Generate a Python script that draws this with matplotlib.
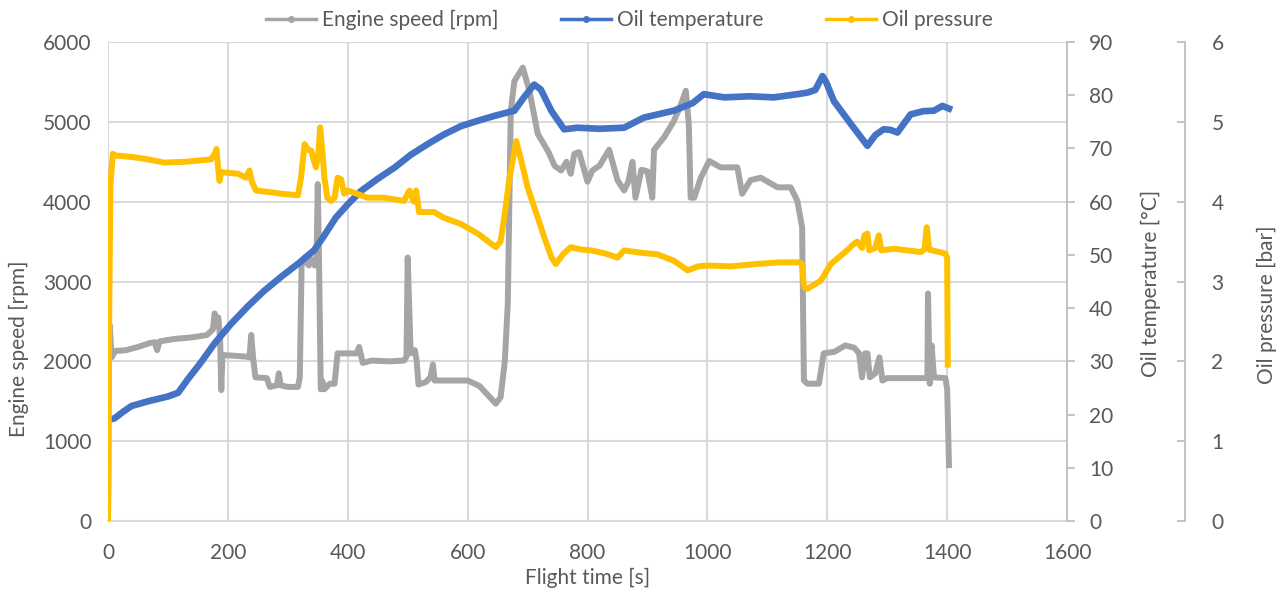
import matplotlib.pyplot as plt
from matplotlib.lines import Line2D

plt.rcParams['font.family'] = ['Lato', 'DejaVu Sans']

# Engine speed [rpm] vs flight time [s]
rpm_t = [0, 3, 6, 12, 30, 50, 70, 78, 82, 86, 110, 140, 165, 175, 178, 181, 184, 187, 189, 191,
         210, 230, 236, 239, 242, 246, 265, 270, 282, 285, 288, 300, 317, 320, 323, 328, 335, 340,
         345, 348, 350, 352, 355, 358, 361, 370, 378, 383, 415, 419, 425, 440, 470, 494, 498, 500,
         502, 505, 512, 515, 518, 530, 538, 542, 545, 600, 620, 647, 655, 662, 667, 672, 678, 692,
         703, 717, 735, 745, 756, 765, 772, 778, 786, 800, 808, 820, 836, 850, 861, 868, 875, 880,
         890, 900, 908, 911, 928, 944, 955, 964, 969, 972, 978, 989, 1003, 1022, 1050, 1058, 1072,
         1089, 1117, 1139, 1150, 1158, 1161, 1167, 1186, 1194, 1212, 1230, 1245, 1253, 1258, 1263,
         1267, 1271, 1280, 1287, 1292, 1300, 1367, 1368, 1371, 1374, 1378, 1397, 1400, 1403]
rpm = [1300, 2450, 2050, 2130, 2140, 2180, 2230, 2240, 2140, 2250, 2280, 2300, 2330, 2400, 2600,
       2450, 2550, 2300, 1640, 2080, 2070, 2060, 2050, 2330, 2050, 1800, 1790, 1680, 1700, 1850,
       1700, 1680, 1680, 1800, 3200, 3300, 3200, 3280, 3200, 3300, 4220, 3300, 1650, 1750, 1650,
       1720, 1720, 2100, 2100, 2180, 1980, 2010, 2000, 2010, 2060, 3300, 2800, 2100, 2140, 2000,
       1710, 1740, 1800, 1960, 1760, 1760, 1690, 1470, 1550, 2000, 2720, 5140, 5510, 5680, 5390,
       4850, 4620, 4450, 4390, 4500, 4350, 4600, 4620, 4250, 4390, 4450, 4650, 4270, 4140, 4250,
       4500, 4050, 4400, 4380, 4050, 4650, 4810, 5010, 5200, 5390, 4970, 4050, 4050, 4300, 4510,
       4430, 4430, 4100, 4270, 4300, 4180, 4180, 4010, 3680, 1760, 1720, 1720, 2100, 2120, 2200,
       2170, 2100, 1800, 2100, 2100, 1800, 1850, 2050, 1760, 1790, 1790, 2850, 1720, 2200, 1800,
       1790, 1650, 700]

# Oil temperature [°C]
temp_t = [0, 11, 25, 39, 67, 100, 117, 133, 155, 178, 205, 233, 260, 289, 320, 344, 360, 380, 400,
          422, 450, 478, 505, 533, 560, 589, 617, 644, 678, 694, 711, 722, 740, 761, 783, 820, 861,
          894, 944, 975, 994, 1028, 1070, 1111, 1150, 1167, 1180, 1192, 1198, 1211, 1240, 1267,
          1280, 1294, 1305, 1317, 1339, 1360, 1378, 1392, 1403]
temp = [19.0, 19.3, 20.5, 21.6, 22.5, 23.4, 24.1, 26.6, 29.8, 33.4, 37.0, 40.3, 43.2, 45.9, 48.6,
        50.9, 53.5, 57.0, 59.5, 62.0, 64.3, 66.4, 68.8, 70.8, 72.6, 74.2, 75.2, 76.1, 77.1, 79.6,
        82.0, 81.1, 77.0, 73.6, 73.9, 73.7, 73.9, 75.8, 77.1, 78.5, 80.2, 79.6, 79.8, 79.6, 80.2,
        80.5, 81.0, 83.6, 82.5, 78.9, 74.5, 70.5, 72.5, 73.6, 73.5, 73.0, 76.4, 77.0, 77.1, 78.0,
        77.5]

# Oil pressure [bar]
pres_t = [0, 1, 2, 4, 8, 11, 40, 67, 94, 130, 172, 178, 181, 184, 186, 189, 217, 230, 236, 240,
          247, 270, 289, 317, 322, 328, 334, 339, 344, 347, 351, 354, 358, 361, 366, 372, 378, 383,
          389, 394, 400, 433, 460, 494, 500, 503, 510, 514, 519, 535, 544, 560, 589, 617, 647, 655,
          661, 670, 681, 690, 700, 717, 728, 740, 747, 760, 772, 790, 806, 830, 850, 861, 890, 917,
          944, 967, 985, 1000, 1040, 1083, 1120, 1153, 1158, 1161, 1167, 1189, 1206, 1233, 1244,
          1250, 1258, 1262, 1267, 1270, 1280, 1286, 1290, 1311, 1356, 1362, 1366, 1370, 1397, 1400,
          1401]
pres = [0.0, 0.5, 2.5, 4.2, 4.6, 4.58, 4.56, 4.53, 4.49, 4.5, 4.53, 4.6, 4.66, 4.4, 4.26, 4.37,
        4.35, 4.3, 4.39, 4.25, 4.14, 4.12, 4.1, 4.08, 4.3, 4.72, 4.65, 4.64, 4.5, 4.43, 4.6, 4.93,
        4.6, 4.3, 4.05, 4.01, 4.05, 4.3, 4.28, 4.1, 4.14, 4.05, 4.05, 4.01, 4.1, 4.14, 4.0, 4.14,
        3.87, 3.87, 3.87, 3.8, 3.72, 3.6, 3.43, 3.5, 3.8, 4.3, 4.76, 4.5, 4.18, 3.8, 3.55, 3.3,
        3.22, 3.35, 3.43, 3.4, 3.39, 3.35, 3.3, 3.39, 3.36, 3.34, 3.26, 3.14, 3.19, 3.2, 3.19,
        3.22, 3.24, 3.24, 3.22, 2.93, 2.91, 3.01, 3.22, 3.39, 3.47, 3.5, 3.42, 3.58, 3.6, 3.39,
        3.42, 3.58, 3.39, 3.41, 3.37, 3.4, 3.68, 3.4, 3.35, 3.3, 1.96]

GRAY = '#A5A5A5'
BLUE = '#4472C4'
GOLD = '#FFC000'
TXT = '#595959'
GRID = '#D9D9D9'
FS = 15

fig = plt.figure(figsize=(12.87, 5.96), dpi=100)
ax = fig.add_axes([0.0839, 0.1258, 0.7452, 0.8037])
ax2 = ax.twinx()
ax3 = ax.twinx()

# thick lines stand in for Excel's dense marker bands
ax.plot(rpm_t, rpm, color=GRAY, lw=4.3, solid_joinstyle='round', zorder=3)
ax2.plot(temp_t, temp, color=BLUE, lw=4.8, solid_joinstyle='round', zorder=3)
ax3.plot(pres_t, pres, color=GOLD, lw=4.3, solid_joinstyle='round', zorder=3)

ax.set_xlim(0, 1600)
ax.set_ylim(0, 6000)
ax2.set_ylim(0, 90)
ax3.set_ylim(0, 6)
ax.set_xticks(range(0, 1601, 200))
ax.set_yticks(range(0, 6001, 1000))
ax2.set_yticks(range(0, 91, 10))
ax3.set_yticks(range(0, 7, 1))

ax.grid(True, color=GRID, lw=1.5)
ax.set_axisbelow(True)
for s in ['top', 'left', 'right']:
    ax.spines[s].set_visible(False)
ax.spines['bottom'].set_color(GRID)
ax.spines['bottom'].set_linewidth(1.5)
ax.tick_params(axis='both', length=0, labelsize=FS, labelcolor=TXT)
ax.tick_params(axis='x', pad=16)
ax.tick_params(axis='y', pad=12)

for a in (ax2, ax3):
    for s in ['top', 'left', 'bottom']:
        a.spines[s].set_visible(False)
    a.spines['right'].set_color('#BFBFBF')
    a.spines['right'].set_linewidth(1.3)
ax2.tick_params(axis='y', length=6, width=1.3, color='#BFBFBF', labelsize=FS, labelcolor=TXT, pad=10)
ax3.spines['right'].set_position(('axes', 1.123))
ax3.tick_params(axis='y', direction='in', length=6, width=1.3, color='#BFBFBF', labelsize=FS,
                labelcolor=TXT, pad=19)

ax.set_xlabel('Flight time [s]', fontsize=FS, color=TXT)
ax.xaxis.set_label_coords(0.5, -0.097)
ax.set_ylabel('Engine speed [rpm]', fontsize=FS, color=TXT)
ax.yaxis.set_label_coords(-0.082, 0.36)
ax2.set_ylabel('Oil temperature [°C]', fontsize=FS, color=TXT)
ax2.yaxis.set_label_coords(1.077, 0.497)
ax3.set_ylabel('Oil pressure [bar]', fontsize=FS, color=TXT)
ax3.yaxis.set_label_coords(1.198, 0.451)

handles = [Line2D([], [], color=c, lw=2.5, marker='o', ms=4) for c in (GRAY, BLUE, GOLD)]
fig.legend(handles, ['Engine speed [rpm]', 'Oil temperature', 'Oil pressure'],
           loc='center', bbox_to_anchor=(0.489, 0.966), ncol=3, frameon=False,
           fontsize=FS, labelcolor=TXT, handlelength=2.4, handletextpad=0.3,
           columnspacing=3.0)

fig.savefig('out.png', dpi=100)
